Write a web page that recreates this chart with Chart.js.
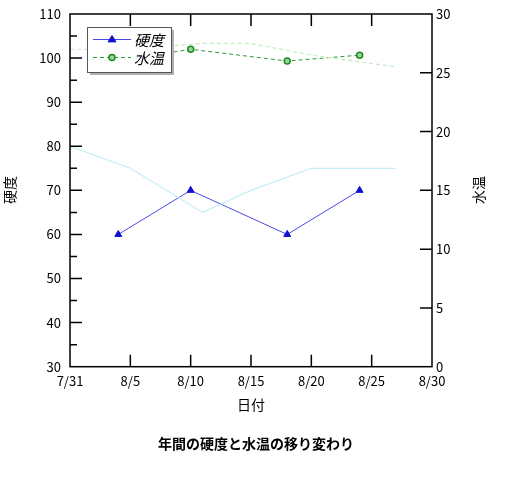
<!DOCTYPE html>
<html>
<head>
<meta charset="utf-8">
<script src="https://cdn.jsdelivr.net/npm/chart.js@4.4.1/dist/chart.umd.min.js"></script>
<style>
  html, body { margin: 0; padding: 0; background: #ffffff; }
  canvas { display: block; }
</style>
</head>
<body>
<canvas id="c" width="512" height="477"></canvas>
<script>
// ---------------- data ----------------
const chartTitle = '年間の硬度と水温の移り変わり';
const xTitle = '日付';
const yLeftTitle = '硬度';
const yRightTitle = '水温';
const startDate = '7/31';
const xTickLabels = ['7/31', '8/5', '8/10', '8/15', '8/20', '8/25', '8/30'];
const yLeftTicks = [30, 40, 50, 60, 70, 80, 90, 100, 110];
const yLeftMinorTicks = [35, 45, 55, 65, 75, 85, 95, 105];
const yRightTicks = [0, 5, 10, 15, 20, 25, 30];

const hardnessDates = ['8/4', '8/10', '8/18', '8/24'];
const hardnessValues = [60, 70, 60, 70];
const tempDates = ['8/4', '8/10', '8/18', '8/24'];
const tempValues = [26, 27, 26, 26.5];

// faint background traces visible in the picture
const faintHardDates = ['7/31', '8/5', '8/11', '8/15', '8/20', '8/27'];
const faintHardValues = [80, 75, 65, 70, 75, 75];
const faintTempDates = ['7/31', '8/5', '8/11', '8/15', '8/20', '8/27'];
const faintTempValues = [27, 27, 27.5, 27.5, 26.5, 25.5];

// ---------------- helpers ----------------
function toDay(s) {
  const [m, d] = s.split('/').map(Number);
  const [m0, d0] = startDate.split('/').map(Number);
  return Math.round((new Date(2000, m - 1, d) - new Date(2000, m0 - 1, d0)) / 86400000);
}
function pts(dates, vals) { return dates.map((d, i) => ({ x: toDay(d), y: vals[i] })); }
const xTickValues = xTickLabels.map(toDay);

const FONT = '"Noto Sans CJK JP", "Noto Sans", sans-serif';

const decorPlugin = {
  id: 'decor',
  afterDatasetsDraw(chart) {
    const ctx = chart.ctx;
    const a = chart.chartArea;
    const xs = chart.scales.x, yl = chart.scales.y, yr = chart.scales.y1;
    ctx.save();
    ctx.strokeStyle = '#000';
    ctx.lineWidth = 1.5;
    ctx.strokeRect(a.left, a.top, a.right - a.left, a.bottom - a.top);
    ctx.lineWidth = 1.5;
    ctx.beginPath();
    // x ticks inward (bottom and top)
    xTickValues.forEach(v => {
      const px = xs.getPixelForValue(v);
      if (px <= a.left + 1 || px >= a.right - 1) return;
      ctx.moveTo(px, a.bottom); ctx.lineTo(px, a.bottom - 12);
      ctx.moveTo(px, a.top); ctx.lineTo(px, a.top + 12);
    });
    // left major
    yLeftTicks.forEach(v => {
      const py = yl.getPixelForValue(v);
      if (py <= a.top + 1 || py >= a.bottom - 1) return;
      ctx.moveTo(a.left, py); ctx.lineTo(a.left + 12, py);
    });
    // left minor
    yLeftMinorTicks.forEach(v => {
      const py = yl.getPixelForValue(v);
      ctx.moveTo(a.left, py); ctx.lineTo(a.left + 7, py);
    });
    // right
    yRightTicks.forEach(v => {
      const py = yr.getPixelForValue(v);
      if (py <= a.top + 1 || py >= a.bottom - 1) return;
      ctx.moveTo(a.right, py); ctx.lineTo(a.right - 12, py);
    });
    ctx.stroke();

    // legend box
    const bx = 87, by = 27, bw = 84, bh = 45;
    ctx.fillStyle = '#b0b0b0';
    ctx.fillRect(bx + 3, by + 3, bw, bh);
    ctx.fillStyle = '#ffffff';
    ctx.fillRect(bx, by, bw, bh);
    ctx.strokeStyle = '#555';
    ctx.lineWidth = 1;
    ctx.strokeRect(bx + 0.5, by + 0.5, bw, bh);
    const items = chart.data.datasets.filter(d => d.showInLegend);
    items.forEach((ds, i) => {
      const ly = 39.5 + i * 18;
      ctx.strokeStyle = ds.borderColor;
      ctx.lineWidth = 1;
      ctx.setLineDash(ds.borderDash || []);
      ctx.beginPath();
      ctx.moveTo(93, ly); ctx.lineTo(131, ly);
      ctx.stroke();
      ctx.setLineDash([]);
      ctx.fillStyle = ds.pointBackgroundColor;
      ctx.strokeStyle = ds.pointBorderColor;
      ctx.lineWidth = ds.pointBorderWidth || 1;
      ctx.beginPath();
      if (ds.pointStyle === 'triangle') {
        const r = ds.pointRadius;
        ctx.moveTo(112, ly - r); ctx.lineTo(112 + r, ly + r * 0.6); ctx.lineTo(112 - r, ly + r * 0.6); ctx.closePath();
      } else {
        ctx.arc(112, ly, ds.pointRadius, 0, Math.PI * 2);
      }
      ctx.fill(); ctx.stroke();
      ctx.fillStyle = '#000';
      ctx.font = 'italic 15px ' + FONT;
      ctx.textBaseline = 'middle';
      ctx.textAlign = 'left';
      ctx.fillText(ds.label, 134, ly + 1);
    });

    // titles
    ctx.fillStyle = '#000';
    ctx.textAlign = 'center';
    ctx.textBaseline = 'middle';
    ctx.font = '14px ' + FONT;
    ctx.fillText(xTitle, (a.left + a.right) / 2, 405);
    ctx.save();
    ctx.translate(10, 190); ctx.rotate(-Math.PI / 2);
    ctx.fillText(yLeftTitle, 0, 0);
    ctx.restore();
    ctx.save();
    ctx.translate(479, 190); ctx.rotate(-Math.PI / 2);
    ctx.fillText(yRightTitle, 0, 0);
    ctx.restore();
    ctx.font = 'bold 14px ' + FONT;
    ctx.fillText(chartTitle, 256, 444);
    ctx.restore();
  }
};

new Chart(document.getElementById('c'), {
  type: 'line',
  data: {
    datasets: [
      {
        label: 'faint1', data: pts(faintHardDates, faintHardValues), yAxisID: 'y',
        borderColor: '#c4eef6', borderWidth: 1.2, pointRadius: 0, fill: false, tension: 0
      },
      {
        label: 'faint2', data: pts(faintTempDates, faintTempValues), yAxisID: 'y1',
        borderColor: '#c2ecc2', borderWidth: 1.2, borderDash: [4, 3], pointRadius: 0, fill: false, tension: 0
      },
      {
        label: '硬度', data: pts(hardnessDates, hardnessValues), yAxisID: 'y', showInLegend: true,
        borderColor: '#4a4ae6', borderWidth: 1, pointStyle: 'triangle', pointRadius: 4,
        pointBackgroundColor: '#1010d0', pointBorderColor: '#1010d0', pointBorderWidth: 1, tension: 0
      },
      {
        label: '水温', data: pts(tempDates, tempValues), yAxisID: 'y1', showInLegend: true,
        borderColor: '#2f9a2f', borderWidth: 1, borderDash: [4, 3], pointStyle: 'circle', pointRadius: 3,
        pointBackgroundColor: '#9ad49a', pointBorderColor: '#1f8a1f', pointBorderWidth: 1.5, tension: 0
      }
    ]
  },
  options: {
    responsive: false,
    animation: false,
    devicePixelRatio: 1,
    layout: { padding: { top: 14, left: 0, right: 0, bottom: 0 } },
    plugins: { legend: { display: false }, title: { display: false }, tooltip: { enabled: false } },
    scales: {
      x: {
        type: 'linear', min: 0, max: 30,
        afterBuildTicks: s => { s.ticks = xTickValues.map(v => ({ value: v })); },
        afterFit: s => { s.height = 110.3; },
        grid: { display: false, drawTicks: false },
        border: { display: false },
        ticks: {
          padding: 7, color: '#000', font: { family: FONT, size: 13 }, maxRotation: 0, autoSkip: false,
          callback: (v) => xTickLabels[xTickValues.indexOf(v)]
        }
      },
      y: {
        type: 'linear', position: 'left', min: 30, max: 110,
        afterBuildTicks: s => { s.ticks = yLeftTicks.map(v => ({ value: v })); },
        afterFit: s => { s.width = 70; },
        grid: { display: false, drawTicks: false },
        border: { display: false },
        ticks: { padding: 9, color: '#000', font: { family: FONT, size: 13, lineHeight: 0.6 } }
      },
      y1: {
        type: 'linear', position: 'right', min: 0, max: 30,
        afterBuildTicks: s => { s.ticks = yRightTicks.map(v => ({ value: v })); },
        afterFit: s => { s.width = 80; },
        grid: { display: false, drawTicks: false },
        border: { display: false },
        ticks: { padding: 4, color: '#000', font: { family: FONT, size: 13, lineHeight: 0.6 } }
      }
    }
  },
  plugins: [decorPlugin]
});
</script>
</body>
</html>
